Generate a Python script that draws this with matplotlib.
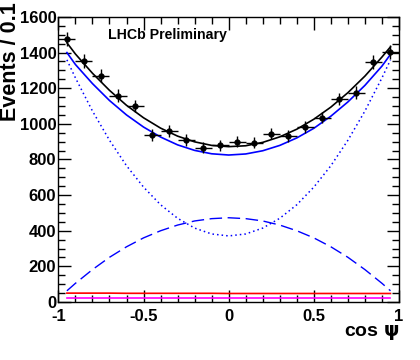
#!/usr/bin/env python3
"""cos(psi) angular distribution with fit components (LHCb Preliminary)."""

import matplotlib
matplotlib.use('Agg')
import matplotlib.pyplot as plt
from matplotlib.ticker import MultipleLocator, FixedLocator

plt.rcParams['font.family'] = ['Liberation Sans', 'DejaVu Sans']
plt.rcParams['font.weight'] = 'bold'
plt.rcParams['mathtext.fontset'] = 'dejavusans'

# Data points (bin centres, counts, errors)
bin_centres = [-0.95, -0.85, -0.75, -0.65, -0.55, -0.45, -0.35, -0.25, -0.15, -0.05,
               0.05, 0.15, 0.25, 0.35, 0.45, 0.55, 0.65, 0.75, 0.85, 0.95]
counts = [1475, 1353, 1269, 1158, 1100, 938, 960, 910, 866, 881,
          900, 894, 945, 932, 983, 1035, 1140, 1175, 1348, 1405]
count_err = [40, 38, 37, 36, 35, 32, 33, 32, 31, 31,
             31, 31, 32, 32, 33, 33, 35, 35, 38, 39]
bin_halfwidth = 0.05

# Fit curves read at these cos(psi) values
curve_x = [-0.95, -0.9, -0.8, -0.7, -0.6, -0.5, -0.4, -0.3, -0.2, -0.1, 0.0,
           0.1, 0.2, 0.3, 0.4, 0.5, 0.6, 0.7, 0.8, 0.9, 0.95]
total_fit = [1455, 1392, 1284, 1188, 1104, 1034, 976, 931, 899, 879, 872,
             877, 896, 927, 970, 1026, 1094, 1175, 1268, 1375, 1432]
signal_fit = [1400, 1333, 1226, 1131, 1050, 982, 926, 882, 851, 832, 825,
              831, 849, 879, 921, 975, 1043, 1123, 1216, 1324, 1390]
signal_a = [1359, 1258, 1072, 908, 765, 645, 546, 470, 415, 382, 371,
            382, 415, 470, 546, 645, 765, 908, 1072, 1258, 1359]
signal_b = [63, 105, 182, 251, 310, 360, 400, 432, 455, 468, 473,
            468, 455, 432, 400, 360, 310, 251, 182, 105, 63]
bkg_red = [50, 50, 50, 50, 49, 49, 49, 49, 49, 49, 48,
           48, 48, 48, 48, 48, 48, 48, 48, 48, 48]
bkg_magenta = [20, 20, 20, 20, 20, 20, 20, 20, 20, 20, 20,
               20, 20, 20, 20, 20, 20, 20, 20, 20, 20]


def make_figure():
    fig = plt.figure(figsize=(4.2, 3.6), dpi=100)
    ax = fig.add_axes([0.139, 0.161, 0.811, 0.792])

    ax.plot(curve_x, bkg_magenta, color='magenta', lw=1.2)
    ax.plot(curve_x, bkg_red, color='red', lw=1.2)
    ax.plot(curve_x, signal_b, color='blue', lw=1.0, dashes=(9, 4))
    ax.plot(curve_x, signal_a, color='blue', lw=1.1, ls=(0, (1, 2)))
    ax.plot(curve_x, signal_fit, color='blue', lw=1.2)
    ax.plot(curve_x, total_fit, color='black', lw=1.2)

    ax.errorbar(bin_centres, counts, yerr=count_err, xerr=bin_halfwidth,
                fmt='o', color='black', ms=3.5, elinewidth=1.0, capsize=0)

    ax.set_xlim(-1, 1)
    ax.set_ylim(0, 1600)
    ax.xaxis.set_major_locator(FixedLocator([-1, -0.5, 0, 0.5, 1]))
    ax.set_xticklabels(['-1', '-0.5', '0', '0.5', '1'])
    ax.xaxis.set_minor_locator(MultipleLocator(0.1))
    ax.yaxis.set_major_locator(MultipleLocator(200))
    ax.yaxis.set_minor_locator(MultipleLocator(50))
    ax.tick_params(which='both', direction='in', top=True, right=True,
                   labelsize=12, width=1.0)
    ax.tick_params(which='major', length=9)
    ax.tick_params(which='minor', length=5)
    ax.tick_params(axis='y', pad=1.5)
    ax.tick_params(axis='x', pad=5)
    for lab in ax.get_xticklabels() + ax.get_yticklabels():
        lab.set_fontweight('bold')
    for s in ax.spines.values():
        s.set_linewidth(1.0)

    fig.text(11 / 420, 1 - 2 / 360, 'Events / 0.1', rotation=90,
             fontsize=15.5, fontweight='bold', ha='center', va='top')
    fig.text(399 / 420, 1 - 332 / 360, r'cos $\mathrm{\psi}$',
             fontsize=14, fontweight='bold', ha='right', va='center')

    ax.text(0.145, 0.937, 'LHCb Preliminary', transform=ax.transAxes,
            fontsize=10.2, fontweight='bold', va='center')
    return fig


def main():
    fig = make_figure()
    fig.savefig('out.png', dpi=100, facecolor='white')
    plt.close(fig)


if __name__ == '__main__':
    main()
